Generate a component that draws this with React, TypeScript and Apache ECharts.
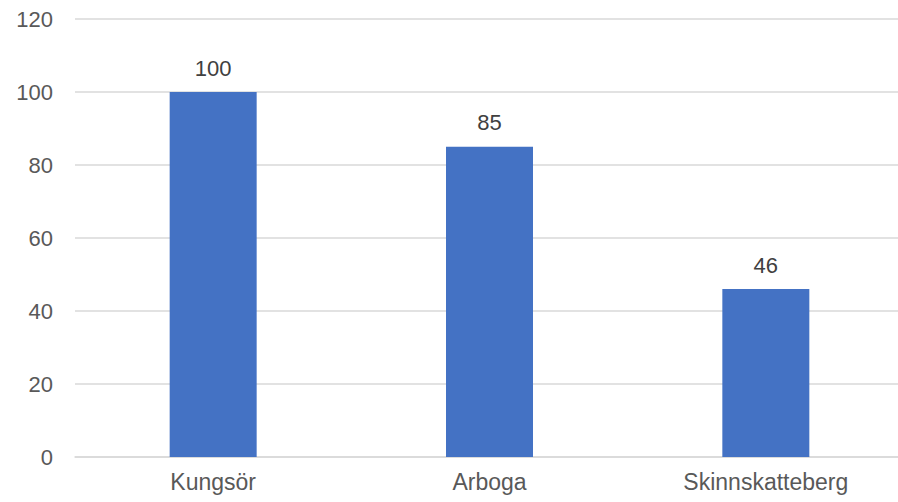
import React, { useEffect, useRef } from "react";
import * as echarts from "echarts";

const categories = ["Kungsör", "Arboga", "Skinnskatteberg"];
const values = [100, 85, 46];
const yTicks = { min: 0, max: 120, interval: 20 };

export default function App() {
  const ref = useRef<HTMLDivElement>(null);
  useEffect(() => {
    if (!ref.current) return;
    const chart = echarts.init(ref.current, null, { renderer: "svg" });
    const font = "'Liberation Sans', Arial, sans-serif";
    chart.setOption({
      animation: false,
      backgroundColor: "#ffffff",
      grid: {
        left: 75,
        top: 19,
        width: 829,
        height: 438,
        containLabel: false,
        outerBoundsMode: "none",
      },
      xAxis: {
        type: "category",
        data: categories,
        axisLine: { show: true, lineStyle: { color: "#d9d9d9", width: 1.5 } },
        axisTick: { show: false },
        axisLabel: { color: "#595959", fontSize: 23, fontFamily: font, margin: 13 },
      },
      yAxis: {
        type: "value",
        min: yTicks.min,
        max: yTicks.max,
        interval: yTicks.interval,
        axisLine: { show: false },
        axisTick: { show: false },
        splitLine: { lineStyle: { color: "#d9d9d9", width: 1.5 } },
        axisLabel: { color: "#595959", fontSize: 22, fontFamily: font, margin: 22 },
      },
      series: [
        {
          type: "bar",
          data: values,
          barWidth: 87,
          itemStyle: { color: "#4472c4" },
          label: {
            show: true,
            position: "top",
            distance: 13,
            color: "#404040",
            fontSize: 22,
            fontFamily: font,
          },
        },
      ],
    });
    return () => chart.dispose();
  }, []);
  return (
    <div
      ref={ref}
      style={{ position: "fixed", left: 0, top: 0, width: 898, height: 502, background: "#fff" }}
    />
  );
}
